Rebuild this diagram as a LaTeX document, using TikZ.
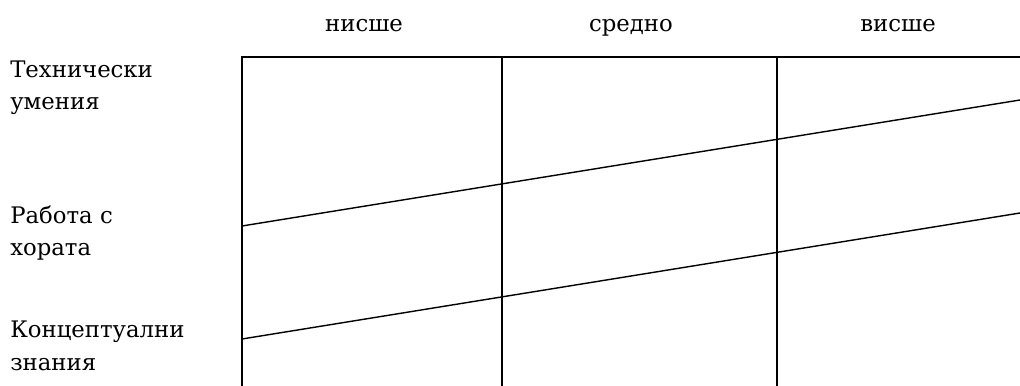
\documentclass[tikz,border=0pt]{standalone}
\usepackage{fontspec}
\setmainfont{DejaVu Serif}[Language=Bulgarian]
\begin{document}
\begin{tikzpicture}[
  x=0.025cm, y=-0.025cm,
  every node/.style={font=\fontsize{16.2}{22.8}\selectfont, inner sep=0pt},
  levellabel/.style={anchor=base},
  skilllabel/.style={anchor=base west, align=left},
  gridline/.style={line width=1pt, black},
  skillline/.style={line width=1pt, black},
]
\useasboundingbox (0,0) rectangle (1020,386);

% header
\node[levellabel] (low) at (364, 32) {нисше};
\node[levellabel] (mid) at (631, 32) {средно};
\node[levellabel] (high) at (898, 32) {висше};

% skills (base = last line)
\node[skilllabel] (tech) at (10, 110) {Технически\\умения};
\node[skilllabel] (people) at (10, 256) {Работа с\\хората};
\node[skilllabel] (concept) at (10, 370) {Концептуални\\знания};

% grid
\coordinate (tl) at (242, 57);
\coordinate (tr) at (1020, 57);
\draw[gridline] (242, 386) -- (tl) -- (tr);
\draw[gridline] (502, 57) -- (502, 386);
\draw[gridline] (777, 57) -- (777, 386);

% boundaries
\coordinate (b1l) at (242, 226);
\coordinate (b1r) at (1020, 100);
\coordinate (b2l) at (242, 339);
\coordinate (b2r) at (1020, 213);
\draw[skillline] (b1l) -- (b1r);
\draw[skillline] (b2l) -- (b2r);

\end{tikzpicture}
\end{document}
